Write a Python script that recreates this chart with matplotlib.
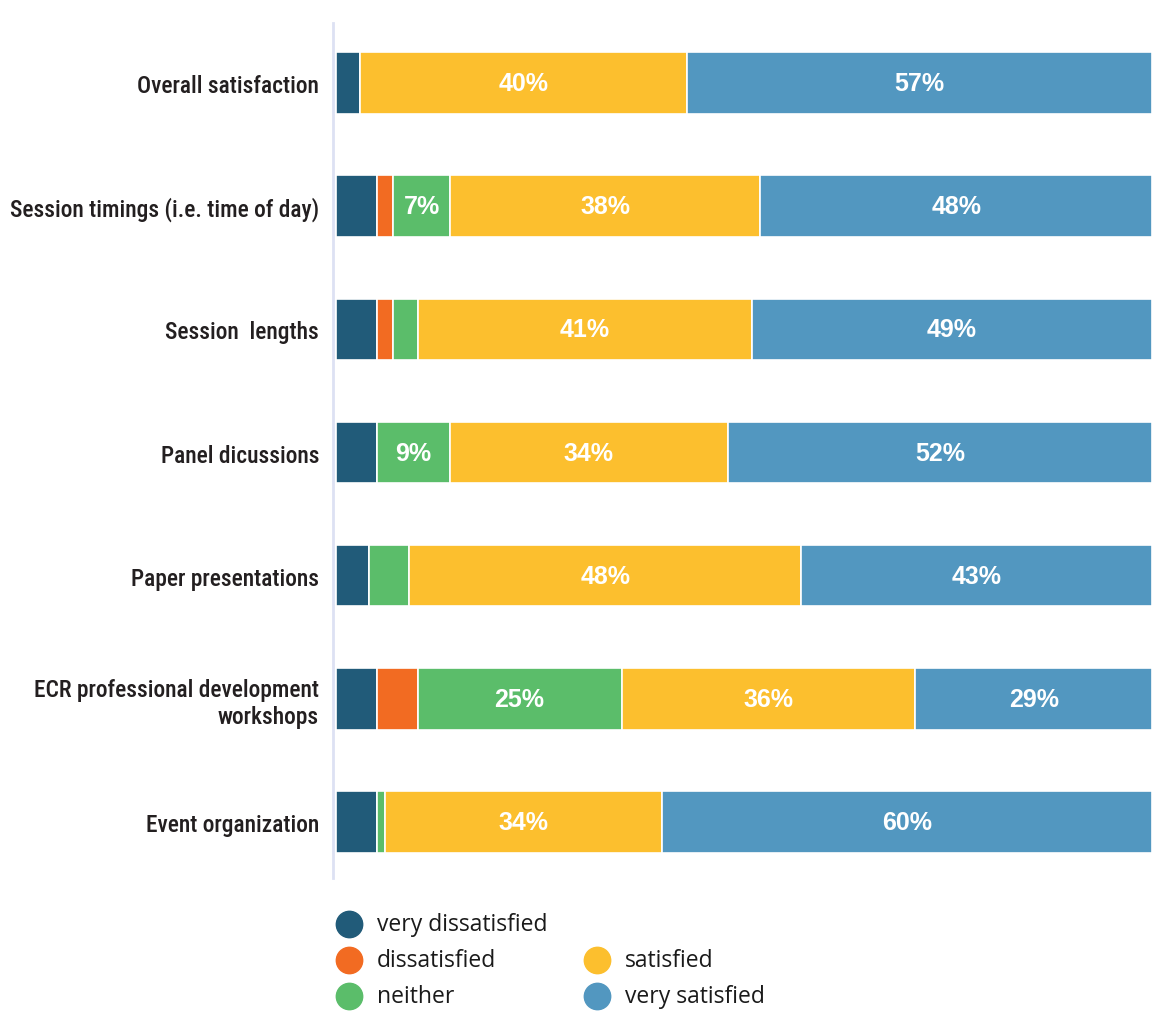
import numpy as np
import matplotlib
matplotlib.use('Agg')
import matplotlib.pyplot as plt
from matplotlib import font_manager as fm
from matplotlib.lines import Line2D

categories = ['Overall satisfaction',
              'Session timings (i.e. time of day)',
              'Session  lengths',
              'Panel dicussions',
              'Paper presentations',
              'ECR professional development\nworkshops',
              'Event organization']

very_dissatisfied = [3, 5, 5, 5, 4, 5, 5]
dissatisfied = [0, 2, 2, 0, 0, 5, 0]
neither = [0, 7, 3, 9, 5, 25, 1]
satisfied = [40, 38, 41, 34, 48, 36, 34]
very_satisfied = [57, 48, 49, 52, 43, 29, 60]

series_names = ['very dissatisfied', 'dissatisfied', 'neither', 'satisfied', 'very satisfied']
colors = ['#215b79', '#f26b22', '#5bbd6a', '#fcbf2e', '#5297c0']


def pick(names):
    for n in names:
        try:
            fm.findfont(fm.FontProperties(family=n), fallback_to_default=False)
            return n
        except ValueError:
            continue
    return 'DejaVu Sans'


cat_font = pick(['Liberation Sans Narrow', 'Roboto Condensed', 'Liberation Sans'])
cat_size = {'Liberation Sans Narrow': 18.5, 'Roboto Condensed': 16.8}.get(cat_font, 15)
val_font = pick(['Liberation Sans', 'Arial', 'DejaVu Sans'])
leg_font = pick(['Open Sans', 'Noto Sans', 'DejaVu Sans'])

W, H = 1153, 1012
fig = plt.figure(figsize=(W / 100, H / 100), dpi=100)
ax = fig.add_axes([333 / W, 1 - 879 / H, (1152 - 333) / W, (879 - 24) / H])

data = [very_dissatisfied, dissatisfied, neither, satisfied, very_satisfied]
y = np.arange(len(categories))
left = np.zeros(len(categories))
for vals, col in zip(data, colors):
    vals = np.array(vals, dtype=float)
    ax.barh(y, vals, left=left, height=0.5, color=col, edgecolor='white', linewidth=1.2)
    for yi, (l, v) in enumerate(zip(left, vals)):
        if v >= 7:
            ax.text(l + v / 2, yi, f'{int(v)}%', ha='center', va='center', color='white',
                    fontsize=18, fontweight='bold', family=val_font)
    left += vals

ax.set_xlim(-0.37, 100)
ax.set_ylim(6.454, -0.4865)
ax.set_yticks(y)
ax.set_yticklabels(categories, fontsize=cat_size, family=cat_font, color='#231f20',
                   fontweight='medium', linespacing=1.2)
ax.tick_params(axis='y', length=0, pad=10)
ax.set_xticks([])
for s in ['top', 'right', 'bottom']:
    ax.spines[s].set_visible(False)
ax.spines['left'].set_color('#dde1f3')
ax.spines['left'].set_linewidth(2)

# legend laid out in two columns like the original
leg_pos = [(349, 925), (349, 961), (349, 997), (597, 961), (597, 997)]
for (px, py), name, col in zip(leg_pos, series_names, colors):
    fig.add_artist(Line2D([px / W], [1 - py / H], transform=fig.transFigure, marker='o',
                          markersize=19, color=col, linestyle='none'))
    fig.text((px + 28) / W, 1 - py / H, name, ha='left', va='center', fontsize=16.5,
             family=leg_font, color='#1a1a1a')

fig.savefig('out.png', dpi=100)
